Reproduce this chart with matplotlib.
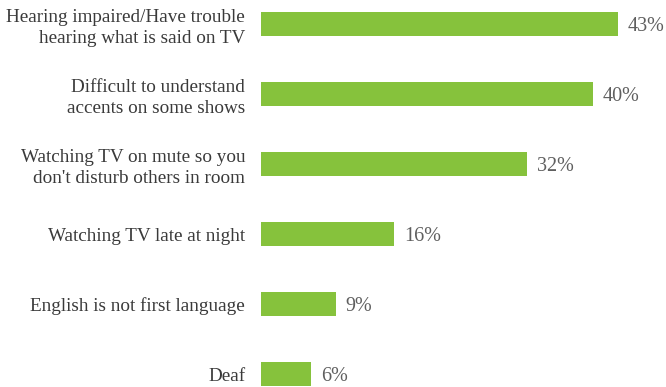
import matplotlib
matplotlib.use("Agg")
import matplotlib.pyplot as plt

categories = [
    "Hearing impaired/Have trouble\nhearing what is said on TV",
    "Difficult to understand\naccents on some shows",
    "Watching TV on mute so you\ndon't disturb others in room",
    "Watching TV late at night",
    "English is not first language",
    "Deaf",
]
values = [43, 40, 32, 16, 9, 6]

BAR_COLOR = "#86C23C"
LABEL_COLOR = "#3A3A3A"
VALUE_COLOR = "#5F5F5F"
FONT = "Liberation Serif"

fig = plt.figure(figsize=(6.66, 3.87), dpi=100)
ax = fig.add_axes([261 / 666, 0.0, (618 - 261) / 666, 1.0])

pos = list(range(len(categories)))
ax.barh(pos, values, height=0.35, color=BAR_COLOR)
ax.set_xlim(0, 43)
ax.set_ylim((387 - 24) / 70, -24 / 70)

for p, cat, v in zip(pos, categories, values):
    dy = 0.06 if "\n" in cat else 0.03
    ax.text(-1.9, p + dy, cat, ha="right", va="center", fontsize=13.8,
            family=FONT, color=LABEL_COLOR, linespacing=1.3, clip_on=False)
    ax.text(v + 1.2, p + 0.04, f"{v}%", ha="left", va="center", fontsize=14.5,
            family=FONT, color=VALUE_COLOR, clip_on=False)

ax.axis("off")
fig.savefig("out.png", dpi=100)
